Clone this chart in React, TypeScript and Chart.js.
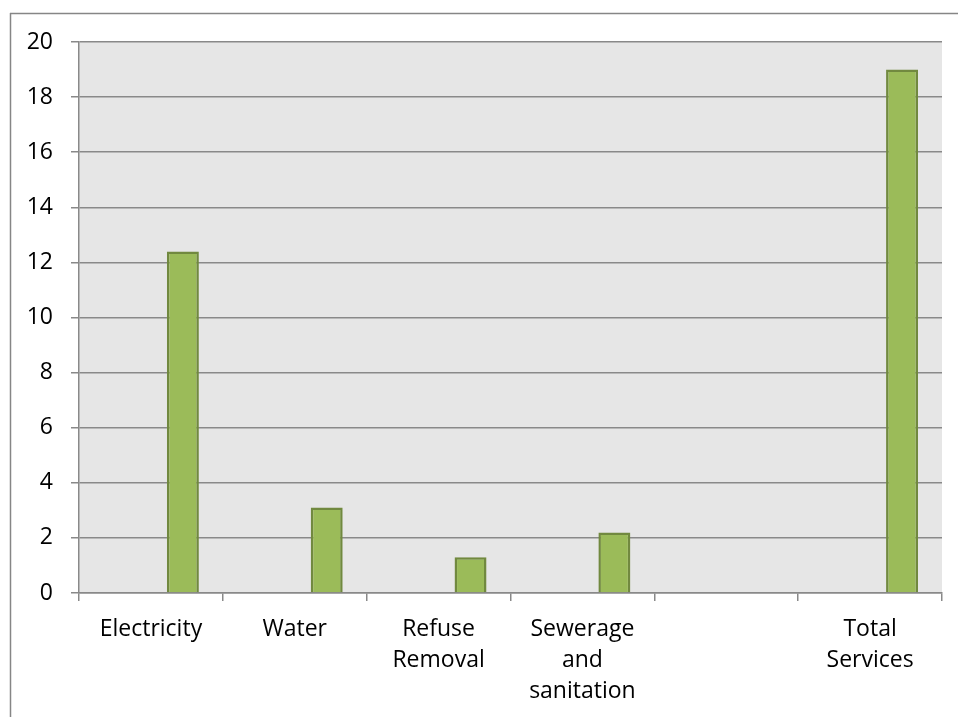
import React, { useEffect, useRef } from "react";
import { Chart, registerables } from "chart.js";

Chart.register(...registerables);

const categories: (string | string[])[] = [
  "Electricity",
  "Water",
  ["Refuse", "Removal"],
  ["Sewerage", "and", "sanitation"],
  "",
  ["Total", "Services"],
];
const emptySeriesA: (number | null)[] = [null, null, null, null, null, null];
const emptySeriesB: (number | null)[] = [null, null, null, null, null, null];
const serviceValues: (number | null)[] = [12.4, 3.1, 1.3, 2.2, null, 19];
const yMin = 0;
const yMax = 20;
const yStep = 2;

const GRID = "#898989";
const FONT = "'Open Sans', sans-serif";

const plotBg = {
  id: "plotBg",
  beforeDraw(chart: any) {
    const { ctx, chartArea } = chart;
    ctx.save();
    ctx.fillStyle = "#e6e6e6";
    ctx.fillRect(chartArea.left, chartArea.top, chartArea.right - chartArea.left, chartArea.bottom - chartArea.top);
    ctx.restore();
  },
  afterDraw(chart: any) {
    const { ctx, width, height } = chart;
    ctx.save();
    ctx.strokeStyle = "#868686";
    ctx.lineWidth = 1.5;
    ctx.beginPath();
    ctx.moveTo(10, 13.5);
    ctx.lineTo(width, 13.5);
    ctx.moveTo(10.5, 13);
    ctx.lineTo(10.5, height);
    ctx.stroke();
    ctx.restore();
  },
};

export default function App() {
  const ref = useRef<HTMLCanvasElement>(null);
  useEffect(() => {
    if (!ref.current) return;
    const chart = new Chart(ref.current, {
      type: "bar",
      data: {
        labels: categories as any,
        datasets: [
          { label: "Series A", data: emptySeriesA, backgroundColor: "#4f81bd", borderWidth: 0 },
          { label: "Series B", data: emptySeriesB, backgroundColor: "#c0504d", borderWidth: 0 },
          {
            label: "Services",
            data: serviceValues,
            backgroundColor: "#9bbb59",
            borderColor: "#71893f",
            borderWidth: 2.5,
          },
        ],
      },
      plugins: [plotBg],
      options: {
        responsive: false,
        animation: false,
        layout: { padding: { top: 42, left: 0, right: 16, bottom: 0 } },
        plugins: { legend: { display: false }, tooltip: { enabled: false } },
        datasets: { bar: { categoryPercentage: 0.6667, barPercentage: 1 } },
        scales: {
          x: {
            offset: true,
            grid: {
              offset: true,
              drawOnChartArea: false,
              drawTicks: true,
              tickLength: 8,
              color: GRID,
              lineWidth: 1.5,
            },
            border: { color: GRID, width: 1.5 },
            ticks: {
              autoSkip: false,
              maxRotation: 0,
              minRotation: 0,
              padding: 13,
              color: "#000",
              font: { family: FONT, size: 23, lineHeight: 1.35 },
            },
            afterFit: (s: any) => {
              s.height = 124;
            },
          },
          y: {
            min: yMin,
            max: yMax,
            grid: {
              color: GRID,
              lineWidth: 1.5,
              drawTicks: true,
              tickLength: 8,
            },
            border: { color: GRID, width: 1.5 },
            ticks: {
              stepSize: yStep,
              padding: 18,
              color: "#000",
              font: { family: FONT, size: 23 },
            },
            afterFit: (s: any) => {
              s.width = 79;
            },
          },
        },
      },
    });
    return () => chart.destroy();
  }, []);
  return (
    <div style={{ position: "absolute", left: 0, top: 0, width: 958, height: 717, background: "#fff" }}>
      <canvas ref={ref} width={958} height={717} style={{ display: "block" }} />
    </div>
  );
}
